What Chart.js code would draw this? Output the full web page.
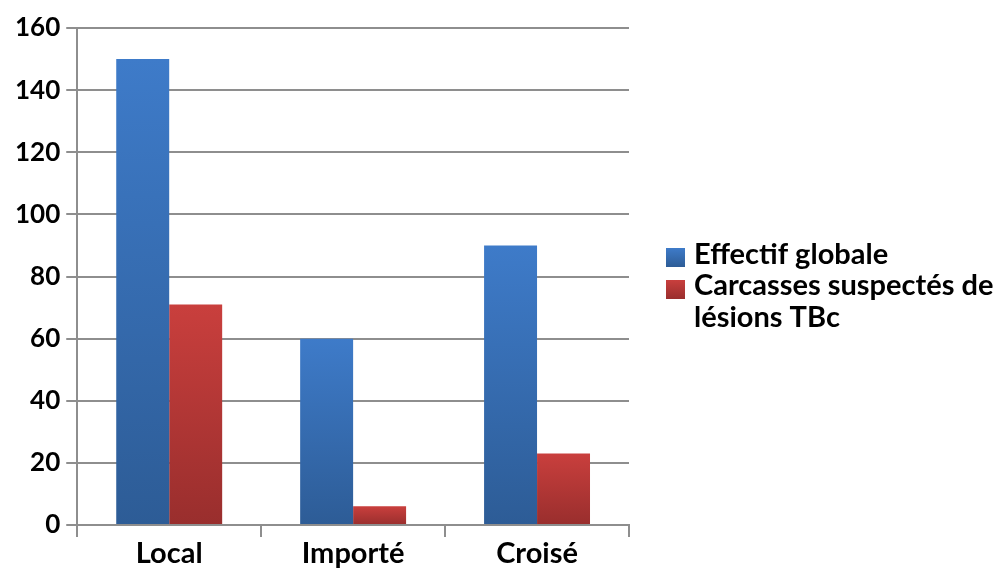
<!DOCTYPE html>
<html>
<head>
<meta charset="utf-8">
<script src="https://cdn.jsdelivr.net/npm/chart.js@4"></script>
<style>
  html, body { margin: 0; padding: 0; background: #ffffff; }
  #wrap { width: 1002px; height: 571px; position: relative; }
</style>
</head>
<body>
<div id="wrap"><canvas id="c" width="1002" height="571"></canvas></div>
<script>
// Categories and series values
const categories = ['Local', 'Importé', 'Croisé'];
const effectifGlobale = [150, 60, 90];
const carcassesSuspectes = [71, 6, 23];
const seriesLabels = ['Effectif globale', ['Carcasses suspectés de', 'lésions TBc']];
const yTicks = [0, 20, 40, 60, 80, 100, 120, 140, 160];

const FONT = 'Lato, "Open Sans", sans-serif';
const WEIGHT = 'bold';
const GRID = '#8e8e8e';

// Per-bar vertical gradient (lighter at the top, darker at the base)
function barGradient(top, bottom) {
  return (ctx) => {
    const chart = ctx.chart;
    const y = chart.scales.y;
    if (!y || ctx.raw == null) return top;
    const y0 = y.getPixelForValue(ctx.raw);
    const y1 = y.getPixelForValue(0);
    if (!isFinite(y0) || !isFinite(y1) || y0 === y1) return top;
    const g = chart.ctx.createLinearGradient(0, y0, 0, y1);
    g.addColorStop(0, top);
    g.addColorStop(1, bottom);
    return g;
  };
}

const seriesColors = [
  ['#3e7bc9', '#2d5c96'],
  ['#c93f3d', '#992e2d']
];

// Legend drawn to the right of the plot, with wrapped second label
const sideLegend = {
  id: 'sideLegend',
  afterDraw(chart) {
    const c = chart.ctx;
    c.save();
    c.font = WEIGHT + ' 29px ' + FONT;
    c.textBaseline = 'alphabetic';
    const x0 = 666, box = 19;
    const rows = [{ box: 248, base: 264 }, { box: 280, base: 295 }];
    chart.data.datasets.forEach((ds, i) => {
      const by = rows[i].box;
      const g = c.createLinearGradient(0, by, 0, by + box);
      g.addColorStop(0, seriesColors[i][0]);
      g.addColorStop(1, seriesColors[i][1]);
      c.fillStyle = g;
      c.fillRect(x0, by, box, box);
      c.fillStyle = '#000';
      const lines = Array.isArray(ds.label) ? ds.label : [ds.label];
      lines.forEach((t, k) => c.fillText(t, x0 + 28, rows[i].base + k * 32));
    });
    c.restore();
  }
};

new Chart(document.getElementById('c'), {
  type: 'bar',
  data: {
    labels: categories,
    datasets: [
      {
        label: seriesLabels[0],
        data: effectifGlobale,
        backgroundColor: barGradient(seriesColors[0][0], seriesColors[0][1]),
        borderWidth: 0
      },
      {
        label: seriesLabels[1],
        data: carcassesSuspectes,
        backgroundColor: barGradient(seriesColors[1][0], seriesColors[1][1]),
        borderWidth: 0
      }
    ]
  },
  options: {
    responsive: false,
    animation: false,
    devicePixelRatio: 1,
    layout: { padding: { left: 9, right: 373, top: 28, bottom: 0 } },
    datasets: { bar: { categoryPercentage: 0.576, barPercentage: 1 } },
    plugins: {
      legend: { display: false },
      tooltip: { enabled: false }
    },
    scales: {
      x: {
        offset: true,
        grid: {
          offset: true,
          drawOnChartArea: false,
          drawTicks: true,
          tickLength: 12,
          color: GRID,
          lineWidth: 2
        },
        border: { display: true, color: GRID, width: 2 },
        ticks: {
          color: '#000',
          font: { family: FONT, size: 29, weight: WEIGHT, lineHeight: 1.0 },
          padding: 2.5
        }
      },
      y: {
        min: 0,
        max: 160,
        afterBuildTicks(scale) {
          scale.ticks = yTicks.map(v => ({ value: v }));
        },
        grid: {
          color: GRID,
          lineWidth: 2,
          drawTicks: true,
          tickLength: 11
        },
        border: { display: true, color: GRID, width: 2 },
        ticks: {
          color: '#000',
          font: { family: FONT, size: 26, weight: WEIGHT },
          padding: 6
        }
      }
    }
  },
  plugins: [sideLegend]
});
</script>
</body>
</html>
